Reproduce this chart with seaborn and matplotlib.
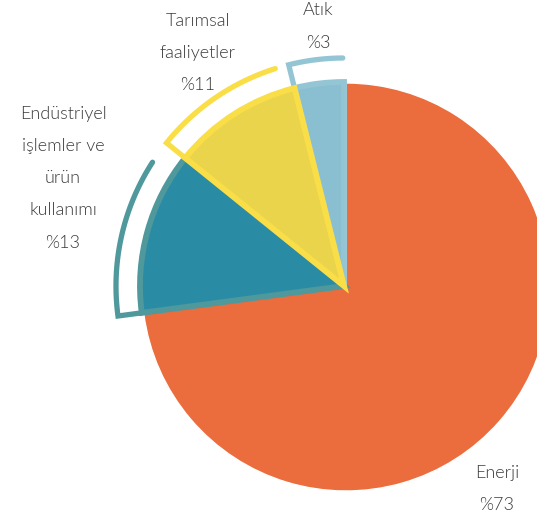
import numpy as np
import seaborn as sns
import matplotlib
import matplotlib.pyplot as plt

matplotlib.use('Agg')

# veriler
categories = ['Enerji', 'Endüstriyel işlemler ve ürün kullanımı', 'Tarımsal faaliyetler', 'Atık']
shares = [72.9, 12.9, 10.3, 3.9]
label_texts = ['Enerji\n%73', 'Endüstriyel\nişlemler ve\nürün\nkullanımı\n%13',
               'Tarımsal\nfaaliyetler\n%11', 'Atık\n%3']

fill_colors = ['#EB6C3C', '#2A8BA4', '#EAD44C', '#89BFD0']
edge_colors = ['#EB6C3C', '#4F989C', '#FADE48', '#93C5D5']

sns.set_theme(style='white')
plt.rcParams['font.family'] = ['Lato', 'DejaVu Sans']

W, H = 537, 520
fig = plt.figure(figsize=(W / 100, H / 100), dpi=100)
ax = fig.add_axes([0, 0, 1, 1])

center = (346, H - 287)
radius = 204

wedges, _ = ax.pie(shares, colors=sns.color_palette(fill_colors), startangle=90,
                   counterclock=False, center=center, radius=radius)

z_order = [1, 2, 4, 3]
for i, w in enumerate(wedges):
    w.set_zorder(z_order[i])
    if i > 0:
        # küçük dilimler hafifçe sola kayık
        w.set_center((center[0] - 2, center[1] + 1))
        w.set_edgecolor(edge_colors[i])
        w.set_linewidth(4.2)
        w.set_joinstyle('miter')

# dış yaylar (küçük dilimler)
arc_trim = [0, 6.0, 3.5, 0.3]
arc_r = radius + 24
for i, w in enumerate(wedges):
    if i == 0:
        continue
    t1, t2 = w.theta1, w.theta2
    cx, cy = w.center
    th = np.radians(np.linspace(t2, t1 + arc_trim[i], 80))
    xs = np.concatenate([[cx + w.r * np.cos(th[0])], cx + arc_r * np.cos(th)])
    ys = np.concatenate([[cy + w.r * np.sin(th[0])], cy + arc_r * np.sin(th)])
    ax.plot(xs, ys, color=edge_colors[i], lw=3.8, solid_capstyle='round',
            solid_joinstyle='miter', zorder=z_order[i])

label_xy = [(497, H - 489), (63, H - 178), (198, H - 53), (318, H - 26.5)]
for txt, (x, y) in zip(label_texts, label_xy):
    ax.text(x, y, txt, ha='center', va='center', fontsize=13, fontweight=300,
            color='#3a3a3a', linespacing=2.25, zorder=10)

ax.set_xlim(0, W)
ax.set_ylim(0, H)
ax.set_aspect('equal')
ax.axis('off')

plt.savefig('out.png', dpi=100)
